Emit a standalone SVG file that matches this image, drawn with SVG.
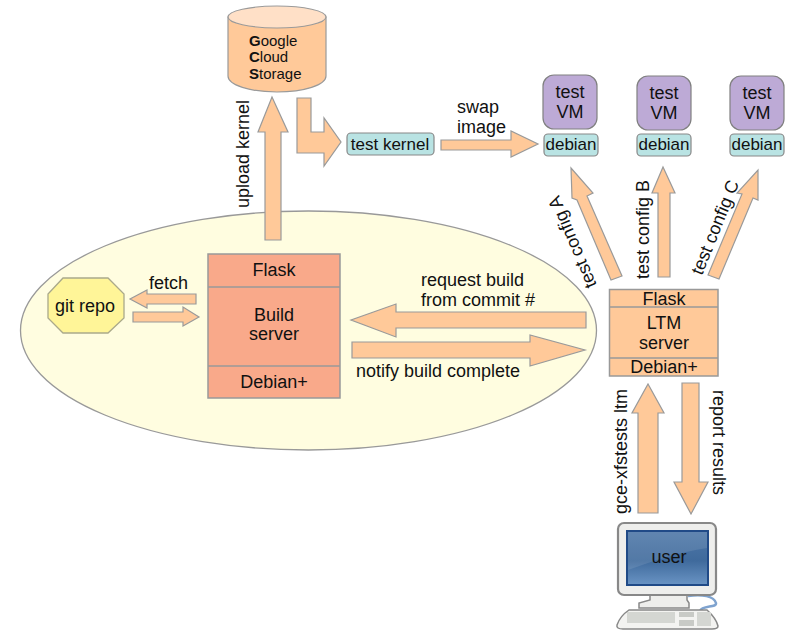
<svg xmlns="http://www.w3.org/2000/svg" width="801" height="643" viewBox="0 0 801 643">
<defs>
<linearGradient id="scr" x1="0" y1="0" x2="0" y2="1"><stop offset="0" stop-color="#4f78a8"/><stop offset="0.55" stop-color="#3f6a9c"/><stop offset="1" stop-color="#6a94c4"/></linearGradient>
</defs>
<style>
text{font-family:"Liberation Sans",Arial,sans-serif;fill:#111;font-size:18px}
.m{text-anchor:middle}
.k{font-size:17px}
.g{font-size:15px}
.a{fill:#ffc999;stroke:#9a9a9a;stroke-width:1.2}
.b{fill:#b9e3e3;stroke:#888;stroke-width:1.2}
.v{fill:#bdaad6;stroke:#808080;stroke-width:1.2}
.o{fill:#ffc999;stroke:#999;stroke-width:1.5}
.s{fill:#f9a98a;stroke:#999;stroke-width:1.5}
</style>
<rect width="801" height="643" fill="#fff"/>
<g id="region"><ellipse cx="308.500" cy="330.500" rx="288" ry="119.500" fill="#fffde0" stroke="#999" stroke-width="1.300"/></g>
<g id="connectors">
<path class="a" d="M265 240V132H258L272 97L288 132H281V240Z"/>
<path class="a" d="M297 98H311V132H324V118L341 142L324 166V153H297Z"/>
<path class="a" d="M441 140H511V131L538 144L511 157V150H441Z"/>
<path class="a" d="M611 280L577 200L572 198L571 168L593 193L587 196L622 276Z"/>
<path class="a" d="M658 277V193H652L663 167L675 193H670V277Z"/>
<path class="a" d="M708 275L742 194L737 193L758 170L758 200L753 198L719 279Z"/>
<path class="a" d="M196 294V304H147V308L130 299L147 290V294Z"/>
<path class="a" d="M133 312H183V307L199 317L183 326V322H133Z"/>
<path class="a" d="M586 312V328H396V337L351 320L396 304V312Z"/>
<path class="a" d="M352 342H530V335L585 350L530 366V358H352Z"/>
<path class="a" d="M638 513V413H632L648 384L664 413H658V513Z"/>
<path class="a" d="M682 383H699V482H708L691 514L674 482H682Z"/>
</g>
<g id="cloud-storage">
<path d="M228 17V76C228 85 250 92 277 92S326 85 326 76V17Z" class="a"/>
<ellipse cx="277" cy="17" rx="49" ry="11" fill="#ffe0c7" stroke="#9a9a9a" stroke-width="1.200"/>
<text class="g" x="249" y="46"><tspan font-weight="bold">G</tspan>oogle</text>
<text class="g" x="249" y="62"><tspan font-weight="bold">C</tspan>loud</text>
<text class="g" x="249" y="79"><tspan font-weight="bold">S</tspan>torage</text>
</g>
<g id="test-kernel"><rect class="b" x="347" y="133" width="87" height="22" rx="4"/><text class="m k" x="390" y="150">test kernel</text></g>
<g id="vm-a"><rect class="v" x="543" y="75" width="54" height="54" rx="11"/><text class="m" x="570" y="98">test</text><text class="m" x="570" y="118">VM</text></g>
<g id="debian-a"><rect class="b" x="544" y="134" width="54" height="22" rx="4"/><text class="m k" x="571" y="150">debian</text></g>
<g id="vm-b"><rect class="v" x="637" y="76" width="54" height="54" rx="11"/><text class="m" x="664" y="99">test</text><text class="m" x="664" y="119">VM</text></g>
<g id="debian-b"><rect class="b" x="637" y="134" width="54" height="22" rx="4"/><text class="m k" x="664" y="150">debian</text></g>
<g id="vm-c"><rect class="v" x="730" y="76" width="54" height="54" rx="11"/><text class="m" x="757" y="99">test</text><text class="m" x="757" y="119">VM</text></g>
<g id="debian-c"><rect class="b" x="730" y="134" width="54" height="22" rx="4"/><text class="m k" x="757" y="150">debian</text></g>
<g id="git-repo"><path d="M63 278H108L124 294V318L108 333H63L48 318V294Z" fill="#fff598" stroke="#aaa98a" stroke-width="1.300"/><text class="m" x="85" y="312">git repo</text></g>
<g id="build-server">
<rect class="s" x="208" y="254" width="132" height="144"/><path class="s" d="M208 287H340M208 366H340"/>
<text class="m" x="274" y="276">Flask</text><text class="m" x="274" y="321">Build</text><text class="m" x="274" y="340">server</text><text class="m" x="274" y="388">Debian+</text>
</g>
<g id="ltm-server">
<rect class="o" x="609.500" y="289.500" width="108.500" height="86.500"/><path class="o" d="M610 307H718M610 358H718"/>
<text class="m" x="664" y="305">Flask</text><text class="m" x="664" y="329">LTM</text><text class="m" x="664" y="349">server</text><text class="m" x="664" y="373">Debian+</text>
</g>
<g id="user">
<path d="M688 596C702 594 714 596 716 603C717 608 702 605 700 611" fill="none" stroke="#7fa3cf" stroke-width="2.500"/>
<path d="M650 594H687V600L689 603V608H639V603L650 600Z" fill="#eeeeec" stroke="#888" stroke-width="1.500"/>
<rect x="618" y="523" width="98" height="72" rx="6" fill="#eeeeec" stroke="#888" stroke-width="2.200"/>
<rect x="627" y="531" width="81" height="54" fill="url(#scr)" stroke="#204a87" stroke-width="2"/>
<path d="M628 532H707V548C680 552 650 562 628 570Z" fill="#fff" opacity="0.1"/>
<path d="M629 610H707Q716 618 718 626Q718 629 712 629H623Q616 629 617 625Q620 616 629 610Z" fill="#f3f3f1" stroke="#888" stroke-width="1.500"/>
<rect x="627" y="612" width="48" height="11" fill="#d4d6d2"/>
<rect x="679" y="612" width="15" height="5" fill="#c8cac6"/><rect x="679" y="620" width="15" height="6" fill="#c8cac6"/>
<rect x="697" y="612" width="14" height="14" fill="#d4d6d2"/>
<text class="m" x="669" y="563">user</text>
</g>
<g id="labels">
<text x="149" y="289">fetch</text>
<text x="421" y="286">request build</text><text x="421" y="306">from commit #</text>
<text x="356" y="377">notify build complete</text>
<text x="457" y="113">swap</text><text x="457" y="133">image</text>
<text transform="translate(249,208) rotate(-90)">upload kernel</text>
<text transform="translate(597,285) rotate(-113)">test config A</text>
<text transform="translate(649,279) rotate(-90)">test config B</text>
<text transform="translate(702,276) rotate(-68)">test config C</text>
<text transform="translate(627,514) rotate(-90)">gce-xfstests ltm</text>
<text transform="translate(713,390) rotate(90)">report results</text>
</g>
</svg>
